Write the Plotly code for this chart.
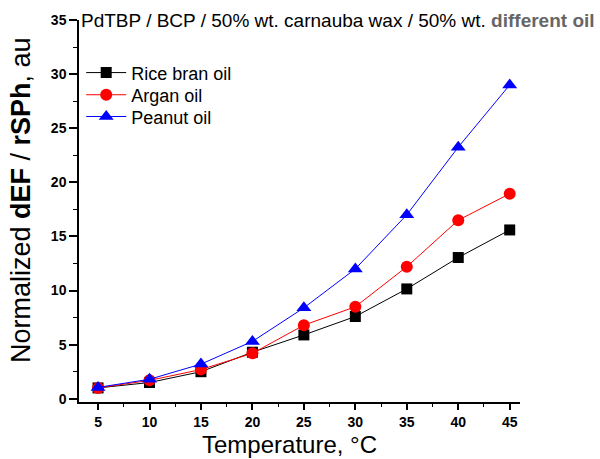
import plotly.graph_objects as go

temps = [5, 10, 15, 20, 25, 30, 35, 40, 45]
rice_bran = [1.0, 1.5, 2.5, 4.3, 5.9, 7.6, 10.15, 13.05, 15.6]
argan = [1.0, 1.7, 2.7, 4.2, 6.8, 8.5, 12.2, 16.5, 18.95]
peanut = [1.05, 1.8, 3.2, 5.3, 8.4, 12.0, 17.0, 23.25, 29.0]

series = [
    ("Rice bran oil", rice_bran, "black", "square", 11, "legend"),
    ("Argan oil", argan, "red", "circle", 12, "legend2"),
    ("Peanut oil", peanut, "blue", "triangle-up", 13, "legend3"),
]

fig = go.Figure()
for name, ys, col, sym, sz, lg in series:
    fig.add_trace(go.Scatter(
        x=temps, y=ys, name=name, mode="lines+markers", legend=lg,
        line=dict(color=col, width=1),
        marker=dict(symbol=sym, size=sz, color=col, line=dict(width=0)),
    ))

font = "Liberation Sans, Arial, sans-serif"
leg = dict(x=0.005, xanchor="left", yanchor="top",
           font=dict(size=18, family=font), bgcolor="rgba(0,0,0,0)", itemwidth=40)
fig.update_layout(
    width=600, height=459,
    margin=dict(l=79, r=80, t=20, b=57),
    paper_bgcolor="white", plot_bgcolor="white",
    font=dict(family=font, color="black"),
    showlegend=True,
    legend=dict(leg, y=0.910),
    legend2=dict(leg, y=0.852),
    legend3=dict(leg, y=0.795),
    xaxis=dict(
        range=[3.15, 46], tickvals=[5, 10, 15, 20, 25, 30, 35, 40, 45],
        ticks="outside", ticklen=6, tickwidth=1.5, tickcolor="black",
        minor=dict(ticks="outside", ticklen=3, tickwidth=1, tickcolor="black", dtick=2.5),
        showline=True, linecolor="black", linewidth=1.5, mirror=False,
        showgrid=False, zeroline=False,
        tickfont=dict(size=14, family=font, weight="bold"),
    ),
    yaxis=dict(
        range=[-0.3, 35], tickvals=[0, 5, 10, 15, 20, 25, 30, 35],
        ticks="outside", ticklen=8, tickwidth=1.5, tickcolor="black",
        minor=dict(ticks="outside", ticklen=4, tickwidth=1, tickcolor="black", dtick=2.5),
        showline=True, linecolor="black", linewidth=1.5, mirror=False,
        showgrid=False, zeroline=False,
        tickfont=dict(size=14, family=font, weight="bold"),
    ),
    annotations=[
        dict(
            text="PdTBP / BCP / 50% wt. carnauba wax / 50% wt. <b><span style='color:#666666'>different oil</span></b>",
            xref="paper", yref="paper", x=0.0, y=1.0, xanchor="left", yanchor="middle",
            showarrow=False, font=dict(size=19, family=font, color="black"),
        ),
        dict(
            text="Temperature, °C", xref="paper", yref="paper",
            x=(289 - 79) / 441, y=(402 - 444) / 382, xanchor="center", yanchor="middle",
            showarrow=False, font=dict(size=24, family=font, color="black"),
        ),
        dict(
            text="Normalized <b>dEF</b> / <b>rSPh</b>, au", xref="paper", yref="paper",
            x=(21 - 79) / 441, y=(402 - 200) / 382, xanchor="center", yanchor="middle",
            textangle=-90, showarrow=False, font=dict(size=27, family=font, color="black"),
        ),
    ],
)

fig.write_html("out.html")
